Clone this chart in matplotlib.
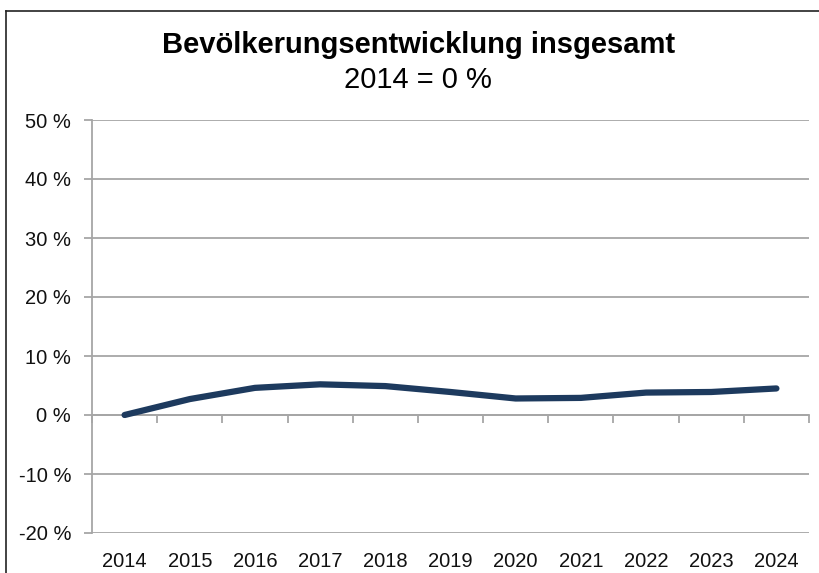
import matplotlib
matplotlib.use("Agg")
import matplotlib.pyplot as plt
from matplotlib.lines import Line2D
from matplotlib.ticker import FuncFormatter

plt.rcParams["font.family"] = ["Liberation Sans", "DejaVu Sans"]

years = ["2014", "2015", "2016", "2017", "2018", "2019", "2020", "2021", "2022", "2023", "2024"]
werte = [0.0, 2.7, 4.6, 5.2, 4.9, 3.9, 2.8, 2.9, 3.8, 3.9, 4.5]
y_ticks = [-20, -10, 0, 10, 20, 30, 40, 50]

fig = plt.figure(figsize=(8.2, 5.73), dpi=100)
ax = fig.add_axes([92 / 820, 1 - 533 / 573, (809 - 92) / 820, (533 - 120) / 573])

x = [i + 0.5 for i in range(len(years))]
ax.plot(x, werte, color="#1d3a5e", lw=4.5, solid_capstyle="round", zorder=3)

ax.set_xlim(0, len(years))
ax.set_ylim(-20, 50)
ax.set_yticks(y_ticks)
ax.yaxis.set_major_formatter(FuncFormatter(lambda v, p: "%d %%" % v))
ax.yaxis.grid(True, color="#a6a6a6", lw=1.3)
ax.set_axisbelow(True)

for s in ["top", "right"]:
    ax.spines[s].set_visible(False)
ax.spines["left"].set_color("#a6a6a6")
ax.spines["left"].set_linewidth(1.3)
ax.spines["bottom"].set_position(("data", 0))
ax.spines["bottom"].set_color("#a6a6a6")
ax.spines["bottom"].set_linewidth(1.3)

ax.set_xticks(range(len(years) + 1))
ax.set_xticklabels([])
ax.tick_params(axis="x", length=6, width=1.3, color="#a6a6a6", direction="out")
ax.tick_params(axis="y", length=6, width=1.3, color="#a6a6a6", labelsize=14.5, pad=9,
               labelcolor="#111111")

sec = ax.secondary_xaxis(0)
sec.set_xticks(x)
sec.set_xticklabels(years, fontsize=14.5, color="#111111")
sec.tick_params(length=0, pad=14)
sec.spines["bottom"].set_visible(False)

fig.text(419 / 820, 1 - 45 / 573, "Bevölkerungsentwicklung insgesamt", ha="center", va="center",
         fontsize=21, fontweight="bold")
fig.text(418 / 820, 1 - 80 / 573, "2014 = 0 %", ha="center", va="center", fontsize=21)

fig.add_artist(Line2D([6 / 820, 1.01], [1 - 11 / 573] * 2, color="#222222", lw=1.2))
fig.add_artist(Line2D([6 / 820] * 2, [-0.01, 1 - 11 / 573], color="#222222", lw=1.2))

fig.savefig("out.png", dpi=100)
